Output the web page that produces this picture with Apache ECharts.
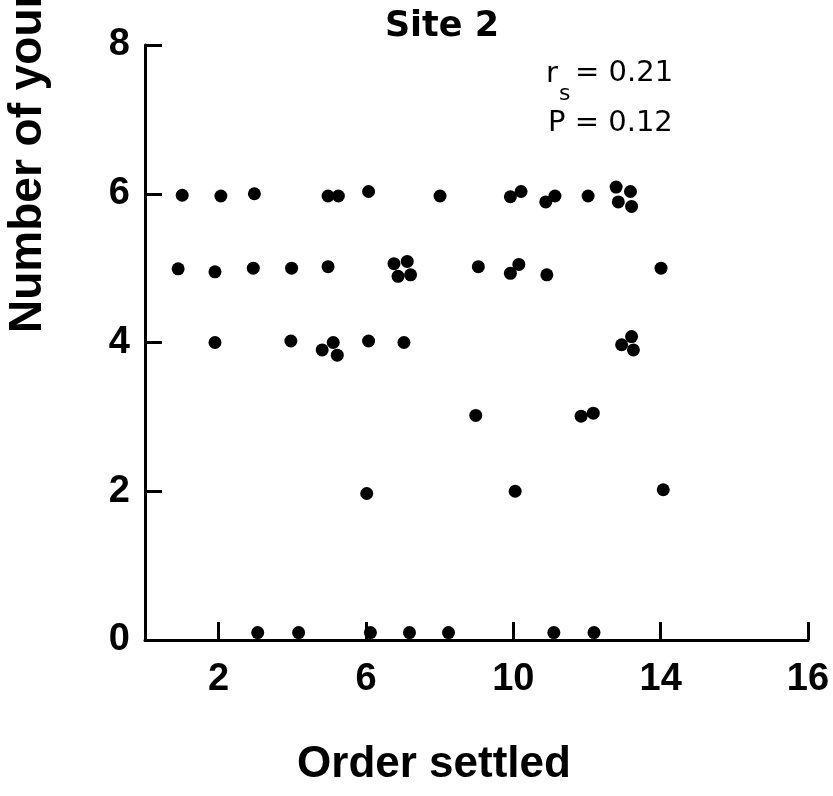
<!DOCTYPE html>
<html>
<head>
<meta charset="utf-8">
<script src="https://cdn.jsdelivr.net/npm/echarts@6/dist/echarts.min.js"></script>
<style>
html,body{margin:0;padding:0;background:#fff;}
#chart{width:833px;height:796px;}
</style>
</head>
<body>
<div id="chart"></div>
<script>
// Order settled (x) and number of young (y) for each bird
var orderSettled = [
  1.01, 2.06, 2.97, 4.97, 5.25, 6.07, 8.01, 9.92, 10.21, 10.88, 11.13, 12.03, 12.79, 13.18, 12.85, 13.21,
  0.90, 1.90, 2.94, 3.98, 4.97, 6.76, 7.12, 6.87, 7.21, 9.05, 9.92, 10.15, 10.91, 14.01,
  1.90, 3.96, 4.81, 5.11, 5.22, 6.07, 7.03, 12.94, 13.21, 13.26,
  8.98, 11.84, 12.17,
  6.02, 10.05, 14.07,
  3.06, 4.17, 6.12, 7.18, 8.24, 11.10, 12.19
];
var numberYoung = [
  5.98, 5.97, 6.00, 5.97, 5.97, 6.03, 5.97, 5.96, 6.03, 5.89, 5.97, 5.97, 6.09, 6.03, 5.89, 5.83,
  4.99, 4.95, 5.00, 5.00, 5.02, 5.06, 5.09, 4.89, 4.91, 5.02, 4.93, 5.05, 4.91, 5.00,
  4.00, 4.02, 3.90, 4.00, 3.83, 4.02, 4.00, 3.97, 4.08, 3.90,
  3.02, 3.01, 3.05,
  1.97, 2.00, 2.02,
  0.10, 0.10, 0.10, 0.10, 0.10, 0.10, 0.10
];
var xTickValues = [2, 6, 10, 14, 18];
var xTickLabels = ['2', '6', '10', '14', '16'];
var yTickValues = [0, 2, 4, 6, 8];
var titleText = 'Site 2';
var xName = 'Order settled';
var yName = 'Number of young';
var statR = '= 0.21';
var statP = 'P = 0.12';

var points = orderSettled.map(function (x, i) { return [x, numberYoung[i]]; });

var chart = echarts.init(document.getElementById('chart'), null, {renderer: 'canvas'});
var axisFont = 'Liberation Sans';
chart.setOption({
  animation: false,
  backgroundColor: '#fff',
  grid: {left: 145, top: 45, right: 25, bottom: 156},
  xAxis: {
    type: 'value', min: 0, max: 18,
    splitLine: {show: false},
    axisLine: {show: true, onZero: false, lineStyle: {color: '#000', width: 3}},
    axisTick: {show: true, inside: true, length: 18, customValues: xTickValues, lineStyle: {color: '#000', width: 3}},
    axisLabel: {
      customValues: xTickValues, margin: 21,
      color: '#000', fontFamily: axisFont, fontWeight: 'bold', fontSize: 38,
      formatter: function (v) { var k = xTickValues.indexOf(v); return k >= 0 ? xTickLabels[k] : ''; }
    }
  },
  yAxis: {
    type: 'value', min: 0, max: 8, interval: 2,
    splitLine: {show: false},
    axisLine: {show: true, lineStyle: {color: '#000', width: 3}},
    axisTick: {show: true, inside: true, length: 17, lineStyle: {color: '#000', width: 3}},
    axisLabel: {
      customValues: yTickValues, margin: 15,
      color: '#000', fontFamily: axisFont, fontWeight: 'bold', fontSize: 38
    }
  },
  series: [{
    type: 'scatter',
    data: points,
    symbol: 'circle',
    symbolSize: 13,
    itemStyle: {color: '#000', opacity: 1}
  }],
  graphic: [
    {type: 'text', x: 442, y: 27, style: {text: titleText, fill: '#000', fontFamily: 'DejaVu Sans', fontWeight: 'bold', fontSize: 35, align: 'center', verticalAlign: 'middle', textAlign: 'center', textVerticalAlign: 'middle'}},
    {type: 'text', x: 434, y: 765, style: {text: xName, fill: '#000', fontFamily: axisFont, fontWeight: 'bold', fontSize: 44, align: 'center', verticalAlign: 'middle', textAlign: 'center', textVerticalAlign: 'middle'}},
    {type: 'text', x: 28, y: 333, rotation: Math.PI / 2, style: {text: yName, fill: '#000', fontFamily: axisFont, fontWeight: 'bold', fontSize: 46, align: 'left', verticalAlign: 'middle', textAlign: 'left', textVerticalAlign: 'middle'}},
    {type: 'text', x: 546, y: 74, style: {text: 'r', fill: '#000', fontFamily: 'DejaVu Sans', fontSize: 29, align: 'left', verticalAlign: 'middle', textAlign: 'left', textVerticalAlign: 'middle'}},
    {type: 'text', x: 559, y: 94, style: {text: 's', fill: '#000', fontFamily: 'DejaVu Sans', fontSize: 22, align: 'left', verticalAlign: 'middle', textAlign: 'left', textVerticalAlign: 'middle'}},
    {type: 'text', x: 575, y: 73, style: {text: statR, fill: '#000', fontFamily: 'DejaVu Sans', fontSize: 29, align: 'left', verticalAlign: 'middle', textAlign: 'left', textVerticalAlign: 'middle'}},
    {type: 'text', x: 548, y: 123, style: {text: statP, fill: '#000', fontFamily: 'DejaVu Sans', fontSize: 29, align: 'left', verticalAlign: 'middle', textAlign: 'left', textVerticalAlign: 'middle'}}
  ]
});
</script>
</body>
</html>
